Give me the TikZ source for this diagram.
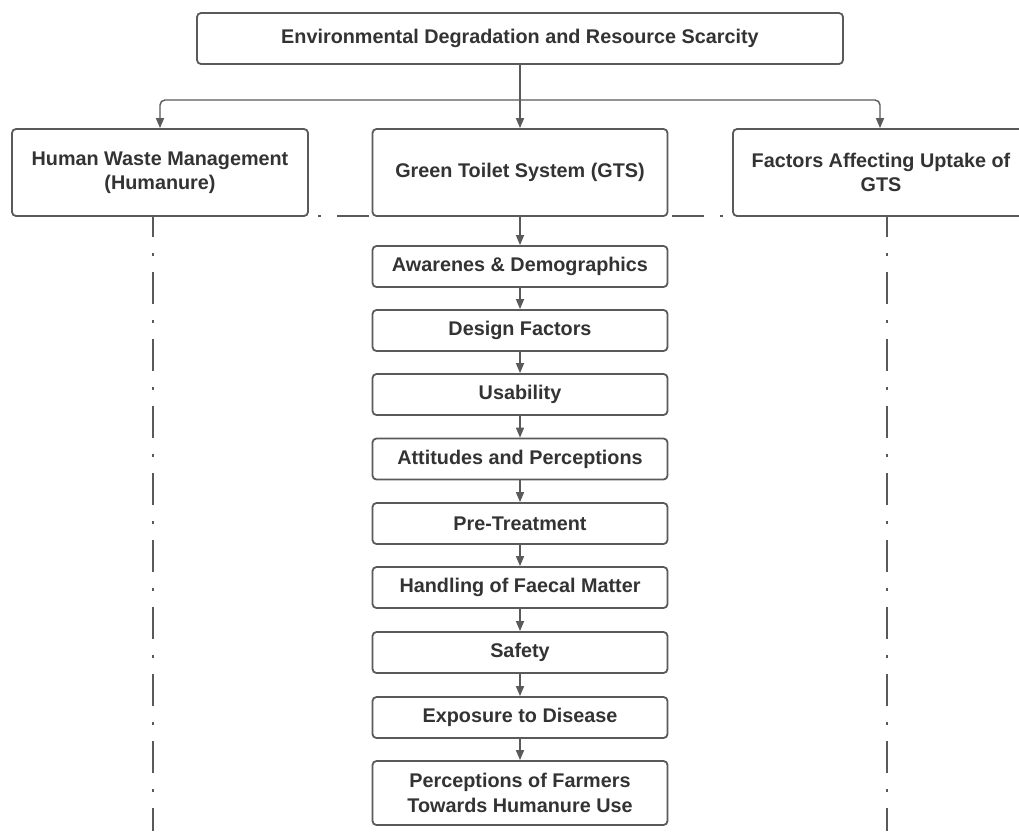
\documentclass[tikz,border=0pt]{standalone}
\usepackage{fontspec}
\setmainfont{Liberation Sans}
\usetikzlibrary{arrows.meta}
\definecolor{edgec}{HTML}{5A5A5A}
\definecolor{txtc}{HTML}{333333}
\begin{document}
\begin{tikzpicture}[x=1pt,y=-1pt,
  box/.style={draw=edgec, line width=1.8pt, rounded corners=4pt, fill=white, text=txtc,
    font=\bfseries\fontsize{19.8}{24.5}\selectfont, align=center, inner sep=0pt},
  chainbox/.style={box, minimum width=295pt, minimum height=41pt},
  conn/.style={draw=edgec, line width=1.4pt, -{Triangle[length=10pt,width=8pt]}},
  dd/.style={draw=edgec, line width=2.4pt, dash pattern=on 32pt off 16pt on 3pt off 16pt, dash phase=11pt},
  ddh/.style={draw=edgec, line width=2.4pt, dash pattern=on 32pt off 16pt on 3pt off 16pt, dash phase=17pt}]
\useasboundingbox (0,0) rectangle (1019,831);
\clip (0,0) rectangle (1019,831);
\fill[white] (0,0) rectangle (1019,831);
% dash-dot frame
\draw[ddh] (153,216) -- (887,216);
\draw[dd] (153,216) -- (153,831);
\draw[dd] (887,216) -- (887,831);
% top row
\node[box, minimum width=646pt, minimum height=51pt] (top) at (520,38.5) {Environmental Degradation and Resource Scarcity};
\node[box, minimum width=296pt, minimum height=87pt] (L) at (160,172.5) {Human Waste Management\\(Humanure)};
\node[box, minimum width=295pt, minimum height=87pt] (M) at (520,172.5) {Green Toilet System (GTS)};
\node[box, minimum width=296pt, minimum height=87pt] (R) at (881,172.5) {Factors Affecting Uptake of\\GTS};
% chain
\node[chainbox] (c1) at (520,266.5) {Awarenes \& Demographics};
\node[chainbox] (c2) at (520,330.5) {Design Factors};
\node[chainbox] (c3) at (520,394.5) {Usability};
\node[chainbox] (c4) at (520,459) {Attitudes and Perceptions};
\node[chainbox] (c5) at (520,523.5) {Pre-Treatment};
\node[chainbox] (c6) at (520,587.5) {Handling of Faecal Matter};
\node[chainbox] (c7) at (520,652.5) {Safety};
\node[chainbox] (c8) at (520,717.5) {Exposure to Disease};
\node[chainbox, minimum height=64pt] (c9) at (520,793) {Perceptions of Farmers\\Towards Humanure Use};
% connectors
\coordinate (J) at (520,100);
\draw[conn] (top.south) -- (M.north);
\draw[conn, rounded corners=5pt] (J) -| (L.north);
\draw[conn, rounded corners=5pt] (J) -| ([xshift=-1pt]R.north);
\draw[conn] (M.south) -- (c1.north);
\draw[conn] (c1.south) -- (c2.north);
\draw[conn] (c2.south) -- (c3.north);
\draw[conn] (c3.south) -- (c4.north);
\draw[conn] (c4.south) -- (c5.north);
\draw[conn] (c5.south) -- (c6.north);
\draw[conn] (c6.south) -- (c7.north);
\draw[conn] (c7.south) -- (c8.north);
\draw[conn] (c8.south) -- (c9.north);
\end{tikzpicture}
\end{document}
